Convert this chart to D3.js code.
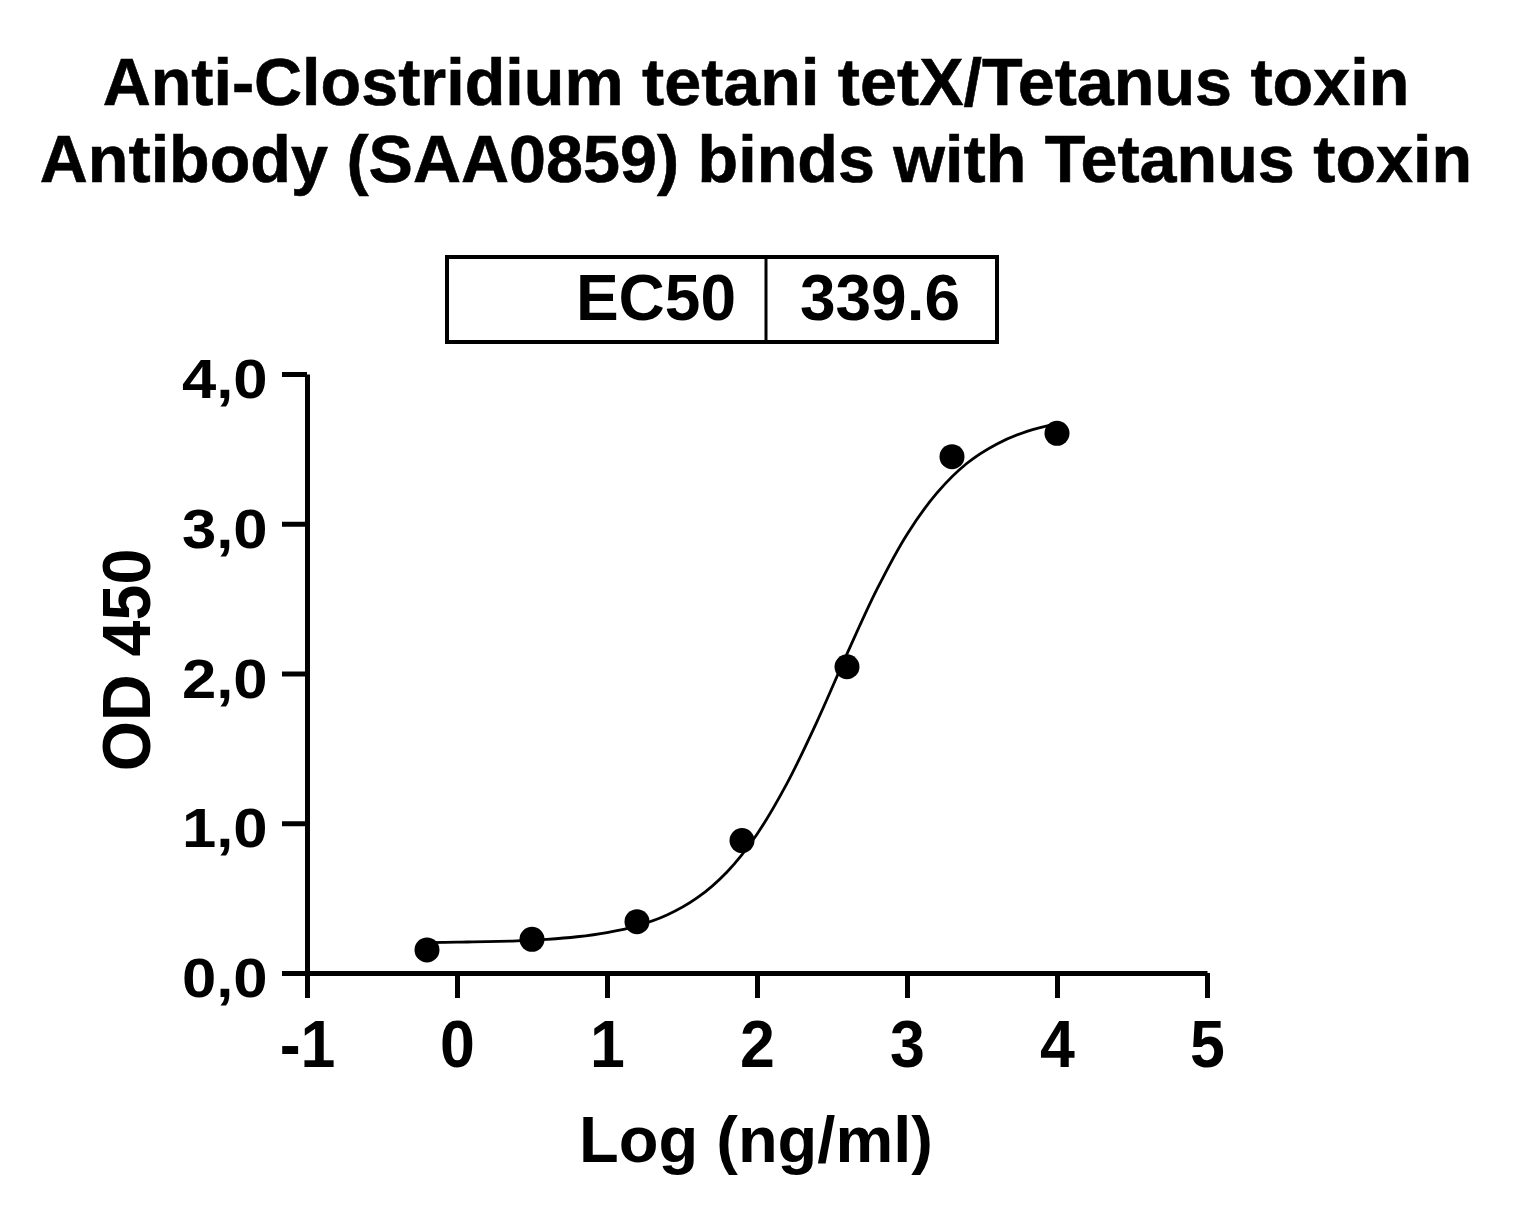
<!DOCTYPE html>
<html>
<head>
<meta charset="utf-8">
<script src="https://cdn.jsdelivr.net/npm/d3@7"></script>
<style>
  body { margin: 0; background: #fff; }
  svg { display: block; font-family: "Liberation Sans", Arial, sans-serif; font-weight: bold; }
</style>
</head>
<body>
<svg id="chart" width="1516" height="1220"></svg>
<script>
// measured points: log concentration vs OD450
var logConc = [-0.2, 0.5, 1.2, 1.9, 2.6, 3.3, 4.0];
var od450 = [0.154, 0.225, 0.343, 0.884, 2.045, 3.448, 3.604];

// fitted curve
var curveX = [-0.2, 0.0, 0.2, 0.4, 0.6, 0.8, 1.0, 1.2, 1.4, 1.6, 1.8, 2.0, 2.2, 2.4, 2.6, 2.8, 3.0, 3.2, 3.4, 3.6, 3.8, 4.0];
var curveY = [0.203, 0.206, 0.209, 0.215, 0.225, 0.242, 0.270, 0.315, 0.387, 0.501, 0.675, 0.927, 1.266, 1.679, 2.131, 2.563, 2.929, 3.206, 3.404, 3.533, 3.617, 3.669];

var xTicks = [-1, 0, 1, 2, 3, 4, 5];
var yTicks = [0, 1, 2, 3, 4];
var titleLines = ["Anti-Clostridium tetani tetX/Tetanus toxin", "Antibody (SAA0859) binds with Tetanus toxin"];
var ec50Label = "EC50";
var ec50Value = "339.6";

var svg = d3.select("#chart");

var x = d3.scaleLinear().domain([-1, 5]).range([307, 1207]);
var y = d3.scaleLinear().domain([0, 4]).range([973, 374]);

// title
svg.selectAll(".title")
    .data(titleLines)
    .enter().append("text")
    .attr("class", "title")
    .attr("x", 756)
    .attr("y", function(d, i) { return 105 + i * 77; })
    .attr("text-anchor", "middle")
    .style("font-size", "66.5px")
    .attr("stroke", "#000")
    .attr("stroke-width", 0.6)
    .text(function(d) { return d; });

// EC50 table
var box = svg.append("g");
box.append("rect")
    .attr("x", 447).attr("y", 257)
    .attr("width", 550).attr("height", 85)
    .attr("fill", "none").attr("stroke", "#000").attr("stroke-width", 4);
box.append("line")
    .attr("x1", 766).attr("x2", 766).attr("y1", 257).attr("y2", 342)
    .attr("stroke", "#000").attr("stroke-width", 3);
box.append("text")
    .attr("x", 736).attr("y", 320)
    .attr("text-anchor", "end")
    .style("font-size", "64px")
    .text(ec50Label);
box.append("text")
    .attr("x", 880).attr("y", 320)
    .attr("text-anchor", "middle")
    .style("font-size", "64px")
    .text(ec50Value);

// axes
var xAxis = d3.axisBottom(x)
    .tickValues(xTicks)
    .tickFormat(function(d) { return String(d); })
    .tickSize(25)
    .tickSizeOuter(0)
    .tickPadding(22);

var yAxis = d3.axisLeft(y)
    .tickValues(yTicks)
    .tickFormat(function(d) { return d3.format(".1f")(d).replace(".", ","); })
    .tickSize(25)
    .tickSizeOuter(0)
    .tickPadding(12);

var gx = svg.append("g")
    .attr("transform", "translate(0," + y(0) + ")")
    .call(xAxis);
var gy = svg.append("g")
    .attr("transform", "translate(" + x(-1) + ",0)")
    .call(yAxis);

[gx, gy].forEach(function(g) {
    g.select(".domain").attr("stroke", "#000").attr("stroke-width", 5);
    g.selectAll(".tick line").attr("stroke", "#000").attr("stroke-width", 5);
    g.selectAll("text").attr("fill", "#000").style("font-family", "Liberation Sans, Arial, sans-serif").style("font-weight", "bold");
});
gx.selectAll(".tick text")
    .style("font-size", "66px")
    .attr("transform", "scale(0.95,1)");
gy.selectAll(".tick text")
    .style("font-size", "56px")
    .attr("dy", "0.42em")
    .attr("transform", "translate(-12,0) scale(1.1,1) translate(12,0)");

// axis titles
svg.append("text")
    .attr("transform", "translate(150,660) rotate(-90) scale(0.95,1)")
    .attr("text-anchor", "middle")
    .style("font-size", "68px")
    .text("OD 450");
svg.append("text")
    .attr("x", 756).attr("y", 1162)
    .attr("text-anchor", "middle")
    .style("font-size", "65px")
    .text("Log (ng/ml)");

// fitted curve
var line = d3.line()
    .x(function(d, i) { return x(curveX[i]); })
    .y(function(d) { return y(d); })
    .curve(d3.curveCatmullRom);
svg.append("path")
    .datum(curveY)
    .attr("d", line)
    .attr("fill", "none")
    .attr("stroke", "#000")
    .attr("stroke-width", 2.8);

// data points
svg.selectAll(".dot")
    .data(od450)
    .enter().append("circle")
    .attr("class", "dot")
    .attr("cx", function(d, i) { return x(logConc[i]); })
    .attr("cy", function(d) { return y(d); })
    .attr("r", 12.5)
    .attr("fill", "#000");
</script>
</body>
</html>
